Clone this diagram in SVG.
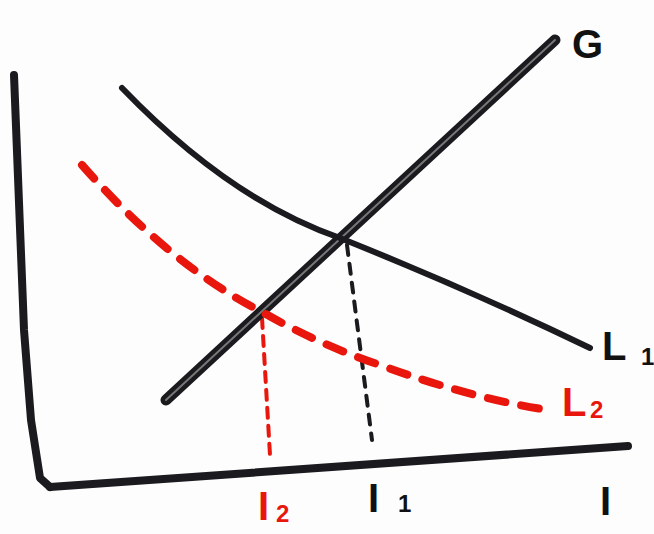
<svg xmlns="http://www.w3.org/2000/svg" width="654" height="534" viewBox="0 0 654 534">
<style>
.ax{fill:none;stroke:#1a1a1f;stroke-width:8;stroke-linecap:round;stroke-linejoin:round}
.blk{fill:none;stroke:#1a1a1f;stroke-width:6;stroke-linecap:round}
.red{fill:none;stroke:#e8160c;stroke-width:8;stroke-linecap:round;stroke-dasharray:18 16}
.redv{fill:none;stroke:#e8160c;stroke-width:4;stroke-linecap:round;stroke-dasharray:10 8}
.blkv{fill:none;stroke:#1a1a1f;stroke-width:4;stroke-linecap:round;stroke-dasharray:10 9}
.lb{font-family:"Liberation Sans",Arial,sans-serif;font-weight:bold;font-size:40px;fill:#111}
.lbs{font-family:"Liberation Sans",Arial,sans-serif;font-weight:bold;font-size:24px}
</style>
<rect width="654" height="534" fill="#fdfdfd"/>
<g id="connectors">
<path id="yaxis" class="ax" d="M14,75 L24,330 L31,420 L40,478 L50,487"/>
<path id="xaxis" class="ax" d="M50,487 L628,446"/>
<path id="redv" class="redv" d="M262,318 L270,455"/>
<path id="blkv" class="blkv" d="M347,245 L372,440"/>
</g>
<g id="G">
<path d="M166,400 L555,40" fill="none" stroke="#1a1a1f" stroke-width="11" stroke-linecap="round"/>
<path d="M166,400 L555,40" fill="none" stroke="#777" stroke-width="2" stroke-linecap="round"/>
<text class="lb" x="572" y="58">G</text>
</g>
<g id="L1">
<path class="blk" d="M122,88 Q230,200 340,238 Q470,290 590,348"/>
<text class="lb" x="602" y="360">L</text>
<text class="lbs" x="641" y="365" fill="#111">1</text>
</g>
<g id="L2">
<path class="red" d="M82,165 Q170,265 262,312 Q320,345 380,365 Q470,398 548,410"/>
<text class="lb" x="562" y="416" style="fill:#e8160c">L</text>
<text class="lbs" x="590" y="418" fill="#e8160c">2</text>
</g>
<g id="I2">
<text class="lb" x="258" y="520" style="fill:#e8160c">I</text>
<text class="lbs" x="276" y="522" fill="#e8160c">2</text>
</g>
<g id="I1">
<text class="lb" x="368" y="512">I</text>
<text class="lbs" x="398" y="512" fill="#111">1</text>
</g>
<g id="I">
<text class="lb" x="600" y="515">I</text>
</g>
</svg>
